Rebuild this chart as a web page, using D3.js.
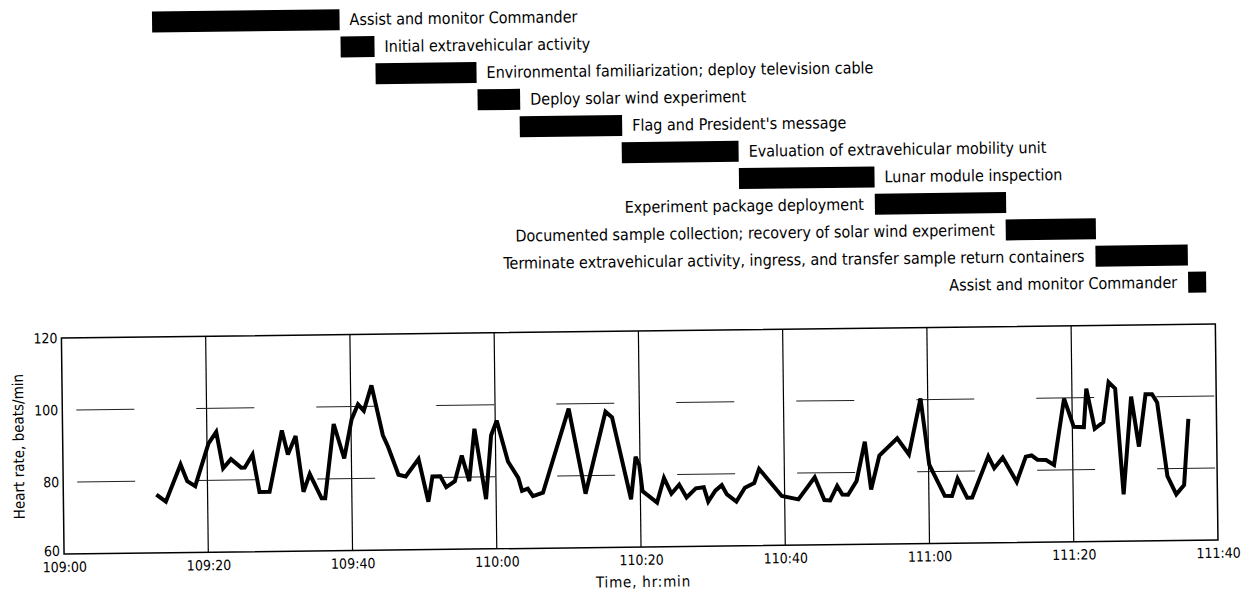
<!DOCTYPE html>
<html>
<head>
<meta charset="utf-8">
<script src="https://cdn.jsdelivr.net/npm/d3@7"></script>
<style>
  html, body { margin: 0; padding: 0; background: #fff; }
  svg text { font-family: "DejaVu Sans Condensed", "DejaVu Sans", sans-serif; font-stretch: condensed; fill: #000; }
</style>
</head>
<body>
<div id="chart"></div>
<script>
// heart rate samples, time in minutes after 109:00 GET
const hrMinutes = [12.9, 14.2, 16.3, 17.2, 18.3, 20.2, 21.3, 22.2, 23.3, 24.7,
    25.2, 26.3, 27.2, 28.6, 30.4, 31.2, 32.3, 33.3, 34.2, 35.8,
    36.3, 37.6, 39.0, 40.1, 41.0, 41.8, 42.9, 44.4, 45.1, 46.5,
    47.5, 49.3, 50.6, 51.2, 52.3, 53.1, 54.3, 55.3, 56.3, 57.1,
    58.6, 59.4, 60.2, 61.7, 63.1, 63.6, 64.4, 65.1, 66.5, 70.2,
    72.4, 75.3, 76.2, 78.7, 79.4, 79.9, 80.3, 82.3, 83.3, 84.3,
    85.4, 86.4, 87.7, 88.8, 89.4, 90.4, 91.3, 92.0, 93.3, 94.5,
    95.8, 96.5, 99.6, 101.9, 104.2, 105.5, 106.3, 107.3, 108.0, 108.8,
    110.0, 111.2, 112.0, 113.2, 115.7, 117.3, 119.0, 120.1, 122.2, 123.2,
    124.0, 125.3, 126.0, 128.3, 129.1, 130.3, 132.2, 133.5, 134.3, 135.1,
    136.3, 137.4, 138.9, 140.2, 141.6, 142.0, 143.1, 144.3, 145.1, 146.0,
    147.0, 148.2, 149.2, 150.2, 151.1, 151.8, 153.1, 154.3, 155.4, 156.1];

const hrBeats = [76.2, 74.2, 84.5, 79.8, 78.4, 90.2, 93.4, 83.3, 85.8, 83.4,
    83.4, 87.0, 76.6, 76.6, 93.6, 86.9, 92.0, 76.5, 81.4, 74.6,
    74.6, 95.2, 85.6, 96.5, 100.6, 98.8, 105.8, 91.9, 88.7, 80.9,
    80.4, 85.2, 73.3, 80.3, 80.3, 77.3, 78.9, 86.0, 78.9, 93.4,
    73.8, 91.5, 95.6, 84.2, 79.6, 76.0, 76.6, 74.5, 75.4, 98.7,
    75.0, 97.7, 96.1, 73.3, 85.1, 82.8, 75.5, 72.3, 79.1, 74.7,
    77.2, 73.6, 76.1, 76.4, 72.4, 75.4, 76.9, 74.3, 72.3, 76.1,
    77.4, 81.3, 73.7, 72.7, 78.8, 72.4, 72.3, 76.3, 73.9, 73.8,
    77.6, 88.5, 75.2, 84.6, 89.3, 84.8, 100.3, 81.9, 73.2, 73.1,
    77.9, 72.6, 72.6, 84.0, 80.7, 83.6, 76.8, 83.8, 84.1, 82.9,
    82.8, 81.4, 99.8, 91.9, 91.8, 102.5, 91.3, 93.1, 104.2, 102.4,
    73.0, 100.1, 86.2, 100.7, 100.7, 98.4, 77.9, 72.8, 75.4, 93.7];

// activity timeline (minutes after 109:00)
const taskNames = [
    "Assist and monitor Commander",
    "Initial extravehicular activity",
    "Environmental familiarization; deploy television cable",
    "Deploy solar wind experiment",
    "Flag and President's message",
    "Evaluation of extravehicular mobility unit",
    "Lunar module inspection",
    "Experiment package deployment",
    "Documented sample collection; recovery of solar wind experiment",
    "Terminate extravehicular activity, ingress, and transfer sample return containers",
    "Assist and monitor Commander"
];
const taskStart = [13.1, 39.2, 44.0, 58.1, 63.9, 78.0, 94.2, 113.0, 131.1, 143.5, 156.3];
const taskEnd = [39.1, 43.9, 58.0, 64.0, 78.1, 94.2, 113.0, 131.2, 143.6, 156.3, 158.8];

const yTicks = [60, 80, 100, 120];
const yGrid = [80, 100];
const xTicks = [0, 20, 40, 60, 80, 100, 120, 140, 160];
const xTickLabels = ["109:00", "109:20", "109:40", "110:00", "110:20", "110:40", "111:00", "111:20", "111:40"];

const width = 1250;
const height = 594;

const x = d3.scaleLinear().domain([0, 160]).range([61, 1215]);
const y = d3.scaleLinear().domain([60, 120]).range([547, 331]);
const row = d3.scalePoint().domain(d3.range(taskNames.length)).range([16, 289]);
const barH = 21;

const svg = d3.select("#chart")
    .append("svg")
    .attr("width", width)
    .attr("height", height);

// the scanned original sits slightly askew
const g = svg.append("g")
    .attr("transform", "rotate(-0.7, 640, 300)");

// ---- timeline bars ----
const tasks = g.append("g").selectAll("g")
    .data(taskNames.map(function (name, i) {
        return { name: name, start: taskStart[i], end: taskEnd[i], i: i };
    }))
    .enter()
    .append("g");

tasks.append("rect")
    .attr("x", function (d) { return x(d.start); })
    .attr("y", function (d) { return row(d.i) - barH / 2; })
    .attr("width", function (d) { return x(d.end) - x(d.start); })
    .attr("height", barH)
    .attr("fill", "#000");

tasks.append("text")
    .attr("x", function (d) { return d.i < 7 ? x(d.end) + 10 : x(d.start) - 11; })
    .attr("y", function (d) { return row(d.i) + 5.5; })
    .attr("text-anchor", function (d) { return d.i < 7 ? "start" : "end"; })
    .attr("font-size", 16)
    .text(function (d) { return d.name; });

// ---- heart rate plot ----
const plot = g.append("g");

plot.selectAll(".vgrid")
    .data(xTicks.slice(1, -1))
    .enter()
    .append("line")
    .attr("x1", function (d) { return x(d); })
    .attr("x2", function (d) { return x(d); })
    .attr("y1", y(120))
    .attr("y2", y(60))
    .attr("stroke", "#000")
    .attr("stroke-width", 1.2);

plot.selectAll(".hgrid")
    .data(yGrid)
    .enter()
    .append("line")
    .attr("x1", x(0))
    .attr("x2", x(160))
    .attr("y1", function (d) { return y(d); })
    .attr("y2", function (d) { return y(d); })
    .attr("stroke", "#222")
    .attr("stroke-width", 1)
    .attr("stroke-dasharray", "58,62")
    .attr("stroke-dashoffset", -14);

plot.append("rect")
    .attr("x", x(0))
    .attr("y", y(120))
    .attr("width", x(160) - x(0))
    .attr("height", y(60) - y(120))
    .attr("fill", "none")
    .attr("stroke", "#000")
    .attr("stroke-width", 1.5);

const yAxis = plot.append("g")
    .attr("transform", "translate(" + x(0) + ",0)")
    .call(d3.axisLeft(y).tickValues(yTicks).tickSize(0).tickPadding(4));
yAxis.select(".domain").remove();
yAxis.selectAll("text")
    .attr("font-size", 14)
    .attr("dy", function (d) { return d === 60 ? "0.1em" : "0.32em"; });

const xAxis = plot.append("g")
    .attr("transform", "translate(0," + y(60) + ")")
    .call(d3.axisBottom(x).tickValues(xTicks)
        .tickFormat(function (d, i) { return xTickLabels[i]; })
        .tickSize(0).tickPadding(8));
xAxis.select(".domain").remove();
xAxis.selectAll("text").attr("font-size", 14);

const hrLine = d3.line()
    .x(function (d) { return x(d[0]); })
    .y(function (d) { return y(d[1]); });

plot.append("path")
    .datum(d3.zip(hrMinutes, hrBeats))
    .attr("d", hrLine)
    .attr("fill", "none")
    .attr("stroke", "#000")
    .attr("stroke-width", 4)
    .attr("stroke-linejoin", "miter")
    .attr("stroke-miterlimit", 3);

plot.append("text")
    .attr("transform", "translate(22,439) rotate(-90)")
    .attr("text-anchor", "middle")
    .attr("font-size", 15)
    .text("Heart rate, beats/min");

plot.append("text")
    .attr("x", (x(0) + x(160)) / 2 + 2)
    .attr("y", 587)
    .attr("text-anchor", "middle")
    .attr("font-size", 15)
    .attr("letter-spacing", 0.8)
    .text("Time, hr:min");
</script>
</body>
</html>
